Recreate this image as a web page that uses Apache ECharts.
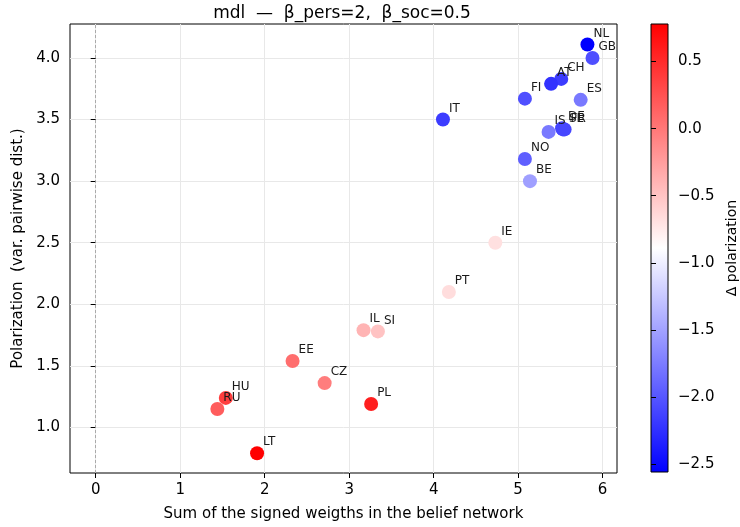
<!DOCTYPE html>
<html>
<head>
<meta charset="utf-8">
<script src="https://cdn.jsdelivr.net/npm/echarts@6/dist/echarts.min.js"></script>
<style>
  html, body { margin: 0; padding: 0; background: #fff; }
  #chart { width: 740px; height: 527px; }
</style>
</head>
<body>
<div id="chart"></div>
<script>
// country codes and values
const countries = ["NL", "GB", "CH", "AT", "FI", "ES", "IT", "IS", "DE", "SE", "FR", "NO", "BE",
                   "IE", "PT", "IL", "SI", "EE", "CZ", "HU", "RU", "PL", "LT"];
const sumWeights = [5.82, 5.88, 5.51, 5.39, 5.08, 5.74, 4.11, 5.36, 5.52, 5.53, 5.55, 5.08, 5.14,
                    4.73, 4.18, 3.17, 3.34, 2.33, 2.71, 1.54, 1.44, 3.26, 1.91];
const polarization = [4.11, 4.00, 3.83, 3.79, 3.67, 3.66, 3.50, 3.40, 3.43, 3.42, 3.42, 3.18, 3.00,
                      2.50, 2.10, 1.79, 1.78, 1.54, 1.36, 1.24, 1.15, 1.19, 0.79];
const deltaPol = [-2.56, -2.04, -2.17, -2.23, -2.04, -1.77, -2.17, -1.77, -2.1, -2.1, -2.1, -1.94, -1.52,
                  -0.69, -0.67, -0.40, -0.50, 0.06, -0.04, 0.38, 0.18, 0.58, 0.78];

const xTicks = [0, 1, 2, 3, 4, 5, 6];
const yTicks = [1.0, 1.5, 2.0, 2.5, 3.0, 3.5, 4.0];
const cbarTicks = [-2.5, -2.0, -1.5, -1.0, -0.5, 0.0, 0.5];
const cbarMin = -2.56, cbarMax = 0.78;

const font = "DejaVu Sans";
const fmt = v => (v < 0 ? "\u2212" : "") + Math.abs(v).toFixed(1);

const points = countries.map((c, i) => [sumWeights[i], polarization[i], deltaPol[i], c]);

const chart = echarts.init(document.getElementById("chart"));
chart.setOption({
  animation: false,
  textStyle: { fontFamily: font },
  title: {
    text: "mdl  \u2014  \u03b2_pers=2,  \u03b2_soc=0.5",
    left: 337, top: 0, textAlign: "center",
    textStyle: { fontFamily: font, fontSize: 17, fontWeight: "normal", color: "#000" }
  },
  grid: [
    { left: 70, top: 24, right: 123, bottom: 54, show: true, borderColor: "#000", borderWidth: 1,
      backgroundColor: "#fff", containLabel: false },
    { left: 651, top: 24, width: 22, height: 448, show: true, borderColor: "#000", borderWidth: 1,
      backgroundColor: { type: "linear", x: 0, y: 0, x2: 0, y2: 1,
        colorStops: [{ offset: 0, color: "#ff0000" }, { offset: 0.5, color: "#ffffff" }, { offset: 1, color: "#0000ff" }] } }
  ],
  xAxis: [
    { type: "value", gridIndex: 0, min: -0.304, max: 6.17,
      name: "Sum of the signed weigths in the belief network", nameLocation: "middle", nameGap: 34,
      nameTextStyle: { fontSize: 15, color: "#000" },
      axisLine: { show: false },
      axisTick: { show: true, length: 5, customValues: xTicks, lineStyle: { color: "#000" } },
      axisLabel: { customValues: xTicks, margin: 10, fontSize: 15, color: "#000" },
      splitLine: { show: true, customValues: xTicks, lineStyle: { color: "#e8e8e8", width: 1 } } },
    { type: "value", gridIndex: 1, min: 0, max: 1, show: false }
  ],
  yAxis: [
    { type: "value", gridIndex: 0, min: 0.63, max: 4.276,
      name: "Polarization  (var. pairwise dist.)", nameLocation: "middle", nameGap: 42,
      nameTextStyle: { fontSize: 15, color: "#000" },
      axisLine: { show: false },
      axisTick: { show: true, length: 5, customValues: yTicks, lineStyle: { color: "#000" } },
      axisLabel: { customValues: yTicks, margin: 10, fontSize: 15, color: "#000", formatter: v => v.toFixed(1) },
      splitLine: { show: true, customValues: yTicks, lineStyle: { color: "#e8e8e8", width: 1 } } },
    { type: "value", gridIndex: 1, min: cbarMin, max: cbarMax, position: "right",
      name: "\u0394 polarization", nameLocation: "middle", nameGap: 57, nameRotate: 90,
      nameTextStyle: { fontSize: 14, color: "#000" },
      axisLine: { show: false },
      axisTick: { show: true, length: 5, customValues: cbarTicks, lineStyle: { color: "#000" } },
      axisLabel: { customValues: cbarTicks, margin: 10, fontSize: 15, color: "#000", formatter: fmt },
      splitLine: { show: false } }
  ],
  visualMap: {
    show: false, type: "continuous", seriesIndex: 0, dimension: 2,
    min: cbarMin, max: cbarMax,
    inRange: { color: ["#0000ff", "#ffffff", "#ff0000"] }
  },
  series: [{
    type: "scatter",
    xAxisIndex: 0, yAxisIndex: 0,
    symbolSize: 14,
    data: points,
    itemStyle: { opacity: 1 },
    label: {
      show: true, position: [13, -4], align: "left", verticalAlign: "middle",
      fontSize: 12, color: "#1a1a1a", formatter: p => p.data[3]
    },
    markLine: {
      silent: true, symbol: "none", label: { show: false },
      lineStyle: { type: [3, 2], color: "#999", width: 0.8 },
      data: [{ xAxis: 0 }]
    }
  }]
});
</script>
</body>
</html>
